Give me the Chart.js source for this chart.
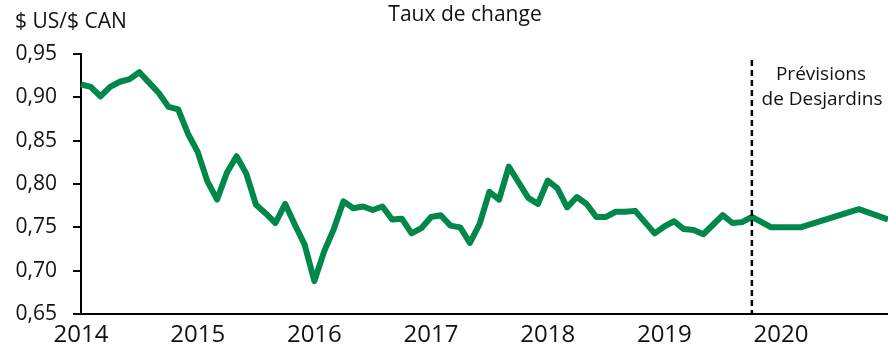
<!DOCTYPE html>
<html lang="fr">
<head>
<meta charset="UTF-8">
<title>Taux de change</title>
<script src="https://cdn.jsdelivr.net/npm/chart.js@4.4.1/dist/chart.umd.min.js"></script>
<style>
  html, body { margin: 0; padding: 0; background: #fff; }
  canvas { display: block; }
</style>
</head>
<body>
<canvas id="tauxChart" width="888" height="354"></canvas>
<script>
// Années de l'axe horizontal (une étiquette par mois de janvier)
const annees = ['2014', '2015', '2016', '2017', '2018', '2019', '2020'];

// Un libellé par mois, de janvier 2014 à décembre 2020
const mois = [];
annees.forEach(a => {
    for (let m = 1; m <= 12; m++) mois.push(a + '-' + String(m).padStart(2, '0'));
});

// $ US/$ CAN, moyenne mensuelle (historique jusqu'en octobre 2019)
const historique = [
    0.915, 0.912, 0.901, 0.912, 0.918, 0.921, 0.929, 0.917, 0.905, 0.889, 0.886, 0.858,
    0.837, 0.803, 0.782, 0.813, 0.832, 0.812, 0.776, 0.766, 0.755, 0.777, 0.753, 0.730,
    0.688, 0.722, 0.748, 0.780, 0.772, 0.774, 0.770, 0.774, 0.759, 0.760, 0.743, 0.749,
    0.762, 0.764, 0.752, 0.750, 0.732, 0.754, 0.791, 0.782, 0.820, 0.802, 0.784, 0.777,
    0.804, 0.795, 0.773, 0.785, 0.777, 0.762, 0.762, 0.768, 0.768, 0.769, 0.756, 0.743,
    0.751, 0.757, 0.748, 0.747, 0.742, 0.753, 0.764, 0.755, 0.756, 0.762
];

// Prévisions de Desjardins (null = pas de valeur publiée pour ce mois)
const previsions = [
    null, 0.750, null, null, 0.750, null, null, null, null, null, 0.771, null, null, 0.759
];

const valeurs = historique.concat(previsions);

// Graduations de l'axe vertical
const yMin = 0.65;
const yMax = 0.95;
const yPas = 0.05;

// Mois où commencent les prévisions (ligne pointillée)
const debutPrevisions = '2019-10';

const police = "'Open Sans', 'DejaVu Sans', sans-serif";

// Titres, unité, ligne pointillée et note sur les prévisions
const decorations = {
    id: 'decorations',
    afterDatasetsDraw(chart) {
        const ctx = chart.ctx;
        const x = chart.scales.x.getPixelForValue(mois.indexOf(debutPrevisions));
        const bas = chart.chartArea.bottom;

        ctx.save();
        ctx.strokeStyle = '#000';
        ctx.lineWidth = 2.5;
        ctx.setLineDash([6, 4]);
        ctx.beginPath();
        ctx.moveTo(x, 60);
        ctx.lineTo(x, bas);
        ctx.stroke();
        ctx.setLineDash([]);

        ctx.fillStyle = '#111';
        ctx.textBaseline = 'alphabetic';

        ctx.font = '21px ' + police;
        ctx.textAlign = 'center';
        ctx.fillText('Taux de change', 465, 21);

        ctx.textAlign = 'left';
        ctx.fillText('$ US/$ CAN', 15, 28);

        ctx.font = '19px ' + police;
        ctx.textAlign = 'center';
        ctx.fillText('Prévisions', 821, 80);
        ctx.fillText('de Desjardins', 822, 105);
        ctx.restore();
    }
};

const ctx = document.getElementById('tauxChart').getContext('2d');
new Chart(ctx, {
    type: 'line',
    data: {
        labels: mois,
        datasets: [{
            label: 'Taux de change',
            data: valeurs,
            borderColor: '#00874a',
            borderWidth: 6,
            borderJoinStyle: 'round',
            pointRadius: 0,
            tension: 0,
            spanGaps: true,
            fill: false
        }]
    },
    options: {
        responsive: false,
        animation: false,
        layout: { autoPadding: false, padding: { top: 54, right: 0, bottom: 0, left: 0 } },
        plugins: {
            legend: { display: false },
            tooltip: { enabled: false },
            title: { display: false }
        },
        scales: {
            x: {
                offset: false,
                afterFit: scale => {
                    scale.height = 40;
                    scale.paddingLeft = 0;
                    scale.paddingRight = 0;
                },
                grid: { display: false, drawTicks: false },
                border: { display: true, color: '#000', width: 2 },
                ticks: {
                    autoSkip: false,
                    maxRotation: 0,
                    padding: 7,
                    color: '#111',
                    font: { family: police, size: 24 },
                    callback: (val, i) => (i % 12 === 0 ? mois[i].slice(0, 4) : '')
                }
            },
            y: {
                min: yMin,
                max: yMax,
                afterFit: scale => { scale.width = 81; },
                grid: {
                    display: true,
                    drawOnChartArea: false,
                    drawTicks: true,
                    tickLength: 8,
                    color: '#000',
                    lineWidth: 2
                },
                border: { display: true, color: '#000', width: 2 },
                ticks: {
                    stepSize: yPas,
                    padding: 16,
                    color: '#111',
                    font: { family: police, size: 21 },
                    callback: v => v.toFixed(2).replace('.', ',')
                }
            }
        }
    },
    plugins: [decorations]
});
</script>
</body>
</html>
